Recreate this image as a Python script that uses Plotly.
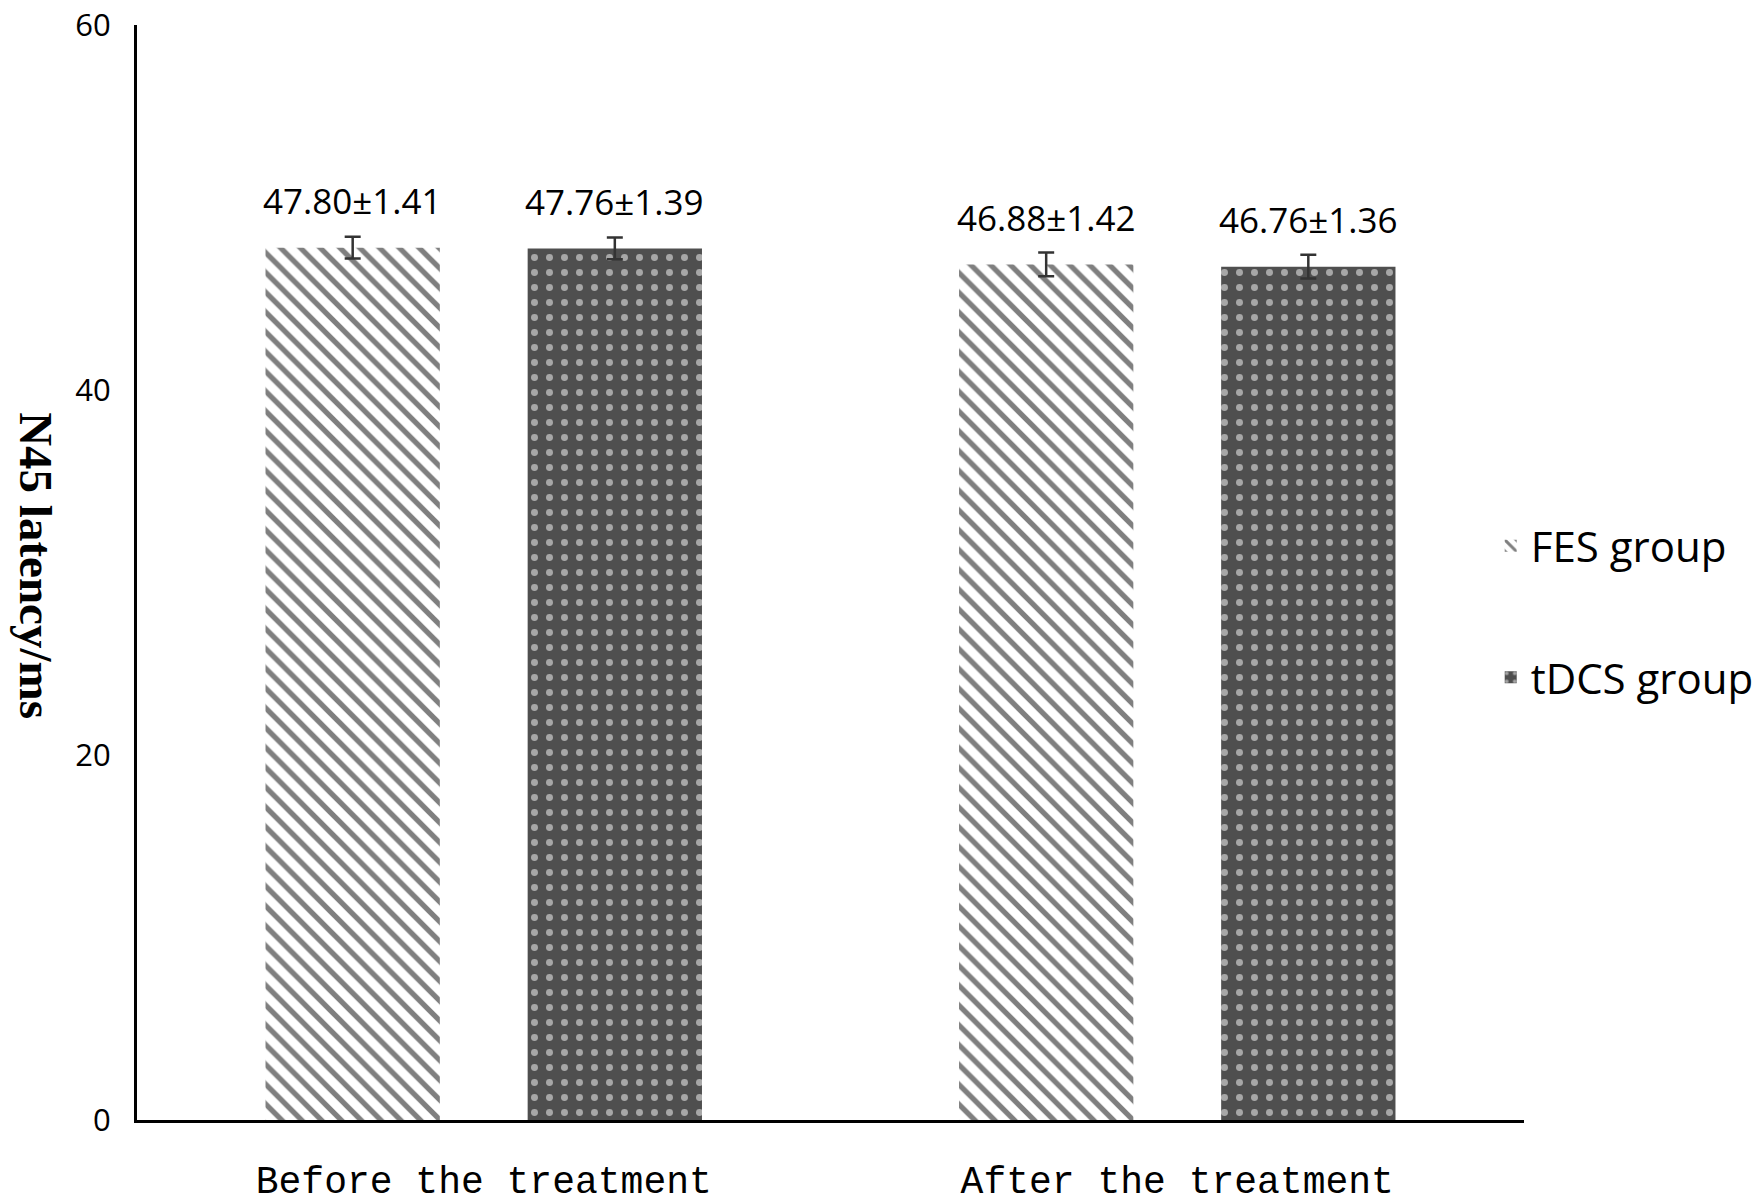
import plotly.graph_objects as go

categories = ["Before the treatment", "After the treatment"]
fes_values = [47.80, 46.88]
fes_sd = [1.41, 1.42]
tdcs_values = [47.76, 46.76]
tdcs_sd = [1.39, 1.36]
# visible error-bar half-lengths as drawn in the picture
fes_err = [0.6, 0.65]
tdcs_err = [0.6, 0.65]
series_names = ["FES group", "tDCS group"]
y_ticks = [0, 20, 40, 60]

BARGAP = 0.244
BARGROUPGAP = 0.335
slot = (1 - BARGAP) / 2
offset = slot / 2

fig = go.Figure()
fig.add_trace(go.Bar(
    name=series_names[0], x=categories, y=fes_values, legendgroup="a",
    marker=dict(color="white", line=dict(width=0),
                pattern=dict(shape="\\", fgcolor="black", bgcolor="white",
                             size=14, solidity=0.38)),
    error_y=dict(type="data", array=fes_err, color="#333333", thickness=2.5, width=8),
))
fig.add_trace(go.Bar(
    name=series_names[1], x=categories, y=tdcs_values, legendgroup="b",
    marker=dict(color="#4f4f4f", line=dict(width=0),
                pattern=dict(shape=".", fgcolor="white", bgcolor="#4f4f4f",
                             size=15, solidity=0.17)),
    error_y=dict(type="data", array=tdcs_err, color="#333333", thickness=2.5, width=8),
))

annotations = []
for i in range(len(categories)):
    annotations.append(dict(
        x=i - offset, y=fes_values[i], xref="x", yref="y",
        text=f"{fes_values[i]:.2f}±{fes_sd[i]:.2f}", showarrow=False,
        yshift=47, font=dict(family="Open Sans", size=35, color="black")))
    annotations.append(dict(
        x=i + offset, y=tdcs_values[i], xref="x", yref="y",
        text=f"{tdcs_values[i]:.2f}±{tdcs_sd[i]:.2f}", showarrow=False,
        yshift=47, font=dict(family="Open Sans", size=35, color="black")))
annotations.append(dict(
    x=-0.073, y=0.506, xref="paper", yref="paper", text="<b>N45 latency/ms</b>",
    textangle=90, showarrow=False, xanchor="center", yanchor="middle",
    font=dict(family="Liberation Serif", size=47, color="black")))

fig.update_layout(
    width=1764, height=1202,
    margin=dict(l=129, r=248, t=17, b=90, autoexpand=False),
    paper_bgcolor="white", plot_bgcolor="white",
    barmode="group", bargap=BARGAP, bargroupgap=BARGROUPGAP,
    showlegend=True,
    legend=dict(x=0.976, y=0.464, xanchor="left", yanchor="middle",
                font=dict(family="Open Sans", size=42, color="black"),
                tracegroupgap=74, bgcolor="rgba(0,0,0,0)"),
    annotations=annotations,
    xaxis=dict(type="category", showline=True, linecolor="black", linewidth=3,
               ticks="", showgrid=False, zeroline=False, automargin=False,
               tickfont=dict(family="Liberation Mono", size=38, color="black"),
               ticklabelstandoff=24),
    yaxis=dict(range=[0, 60], tickvals=y_ticks, showline=True, linecolor="black",
               linewidth=3, ticks="", showgrid=False, zeroline=False, automargin=False,
               tickfont=dict(family="Open Sans", size=31, color="black"),
               ticklabelstandoff=17, ticklabeloverflow="allow"),
)

fig.write_html("out.html")
